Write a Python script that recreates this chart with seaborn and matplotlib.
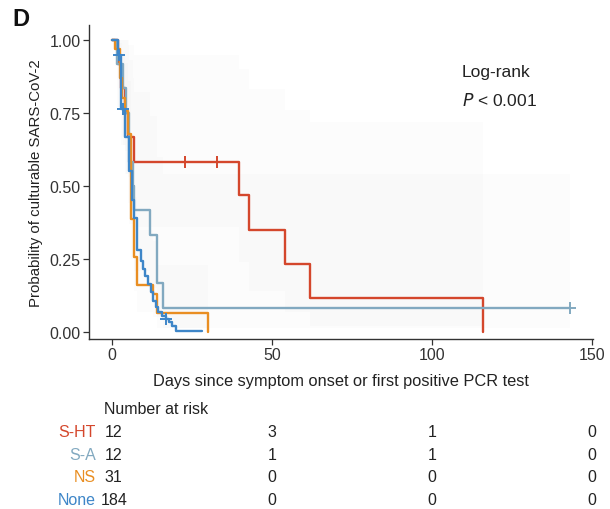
import numpy as np
import pandas as pd
import matplotlib
matplotlib.use("Agg")
import matplotlib.pyplot as plt
import matplotlib.transforms as mtransforms
import seaborn as sns

# ---------------- data ----------------
groups = ["S-HT", "S-A", "NS", "None"]

sht_time = [0, 2.0, 3.0, 4.0, 5.0, 6.9, 39.7, 42.8, 54.0, 62.0, 116.0]
sht_surv = [1.0, 0.917, 0.833, 0.75, 0.667, 0.583, 0.467, 0.35, 0.233, 0.117, 0.0]
sht_upper = [1.0, 1.0, 1.0, 1.0, 0.98, 0.946, 0.90, 0.83, 0.758, 0.719, 0.719]
sht_lower = [1.0, 0.77, 0.64, 0.54, 0.44, 0.36, 0.24, 0.14, 0.07, 0.02, 0.02]
sht_cens_t = [22.8, 32.8]
sht_cens_s = [0.583, 0.583]

sa_time = [0, 1.5, 3.4, 4.5, 5.5, 6.5, 7.0, 12.0, 14.0, 16.0, 143.0]
sa_surv = [1.0, 0.917, 0.833, 0.75, 0.583, 0.5, 0.417, 0.333, 0.167, 0.083, 0.083]
sa_upper = [1.0, 1.0, 1.0, 1.0, 0.93, 0.87, 0.82, 0.74, 0.60, 0.54, 0.54]
sa_lower = [1.0, 0.77, 0.64, 0.54, 0.37, 0.29, 0.21, 0.15, 0.05, 0.013, 0.013]
sa_cens_t = [143.0]
sa_cens_s = [0.083]

ns_time = [0, 1.0, 2.5, 3.2, 4.1, 4.9, 5.9, 7.0, 8.0, 12.8, 14.0, 30.0]
ns_surv = [1.0, 0.968, 0.87, 0.80, 0.755, 0.676, 0.387, 0.258, 0.161, 0.13, 0.065, 0.0]
ns_upper = [1.0, 1.0, 0.99, 0.95, 0.92, 0.86, 0.60, 0.46, 0.35, 0.31, 0.23, 0.23]
ns_lower = [1.0, 0.91, 0.76, 0.67, 0.62, 0.53, 0.25, 0.14, 0.07, 0.05, 0.015, 0.015]

none_time = [0, 1.9, 2.8, 3.0, 4.2, 5.5, 6.2, 6.9, 7.9, 9.0, 9.8, 10.5, 11.3,
             12.2, 12.9, 13.7, 14.5, 15.5, 16.8, 17.8, 18.8, 20.0, 28.0]
none_surv = [1.0, 0.946, 0.873, 0.764, 0.668, 0.55, 0.45, 0.39, 0.28, 0.244,
             0.216, 0.19, 0.164, 0.137, 0.107, 0.086, 0.068, 0.056, 0.045,
             0.033, 0.022, 0.005, 0.005]
none_cens_t = [2.2, 3.5, 17.0]
none_cens_s = [0.946, 0.764, 0.045]

risk_times = [0, 50, 100, 150]
risk_sht = [12, 3, 1, 0]
risk_sa = [12, 1, 1, 0]
risk_ns = [31, 0, 0, 0]
risk_none = [184, 0, 0, 0]

colors = {"S-HT": "#D4472C", "S-A": "#82A9C0", "NS": "#E98E22", "None": "#3E86C8"}

# ---------------- plotting ----------------
sns.set_theme(style="white")
plt.rcParams['font.family'] = ['Liberation Sans', 'DejaVu Sans']

W, H = 610, 510
fig = plt.figure(figsize=(W / 100, H / 100), dpi=100)
ax = fig.add_axes([89 / W, 1 - 340 / H, (592.5 - 89) / W, (340 - 26) / H])

curves = [
    ("S-HT", sht_time, sht_surv, sht_upper, sht_lower, sht_cens_t, sht_cens_s),
    ("S-A", sa_time, sa_surv, sa_upper, sa_lower, sa_cens_t, sa_cens_s),
    ("NS", ns_time, ns_surv, ns_upper, ns_lower, [], []),
    ("None", none_time, none_surv, None, None, none_cens_t, none_cens_s),
]

# faint confidence bands
for name, t, s, up, lo, ct, cs in curves:
    if up is not None:
        ax.fill_between(t, lo, up, step="post", color="#a0a0a0", alpha=0.03,
                        linewidth=0)

for name, t, s, up, lo, ct, cs in curves:
    df = pd.DataFrame({"time": t, "surv": s})
    sns.lineplot(data=df, x="time", y="surv", drawstyle="steps-post",
                 estimator=None, sort=False, color=colors[name], lw=1.7, ax=ax)
    if ct:
        dfc = pd.DataFrame({"time": ct, "surv": cs})
        sns.scatterplot(data=dfc, x="time", y="surv", marker="+", s=70,
                        color=colors[name], linewidth=1.4, ax=ax, zorder=5)

ax.set_xlim(-7.15, 150.15)
ax.set_ylim(-0.024, 1.05)
ax.set_xticks([0, 50, 100, 150])
ax.set_yticks([0, 0.25, 0.5, 0.75, 1.0])
ax.set_yticklabels(["0.00", "0.25", "0.50", "0.75", "1.00"])
for side in ["top", "right"]:
    ax.spines[side].set_visible(False)
for side in ["left", "bottom"]:
    ax.spines[side].set_color("#333333")
    ax.spines[side].set_linewidth(1.0)
ax.tick_params(axis="both", which="major", length=4, width=0.9, color="#333333",
               labelsize=11.5, labelcolor="#333333", pad=2, direction="out",
               bottom=True, left=True)
ax.set_xlabel("Days since symptom onset or first positive PCR test",
              fontsize=11.8, color="#222222", labelpad=8)
ax.set_ylabel("Probability of culturable SARS-CoV-2", fontsize=10.8,
              color="#222222", labelpad=5)

ax.text(0.741, 0.853, "Log-rank", transform=ax.transAxes, fontsize=12.5,
        color="#222222", va="center", ha="left")
ax.text(0.741, 0.764, "$\\it{P}$ < 0.001", transform=ax.transAxes,
        fontsize=12.5, color="#222222", va="center", ha="left")

fig.text(12 / W, 1 - 20 / H, "D", fontsize=17, fontweight="bold",
         color="#111111", va="center", ha="left")

# ---------------- risk table ----------------
tr = mtransforms.blended_transform_factory(ax.transData, fig.transFigure)
fig.text(104 / W, 1 - 410 / H, "Number at risk", fontsize=11.5,
         color="#222222", va="center", ha="left")
rows = [("S-HT", risk_sht, 433), ("S-A", risk_sa, 456),
        ("NS", risk_ns, 478), ("None", risk_none, 501)]
for name, vals, ypx in rows:
    yf = 1 - ypx / H
    fig.text(96 / W, yf, name, fontsize=11.5, color=colors[name],
             va="center", ha="right")
    for tt, v in zip(risk_times, vals):
        xx = tt + (0.6 if tt == 0 else 0)
        ax.text(xx, yf, str(v), transform=tr, fontsize=11.5, color="#222222",
                va="center", ha="center", clip_on=False)

fig.savefig("out.png", dpi=100, facecolor="white")
